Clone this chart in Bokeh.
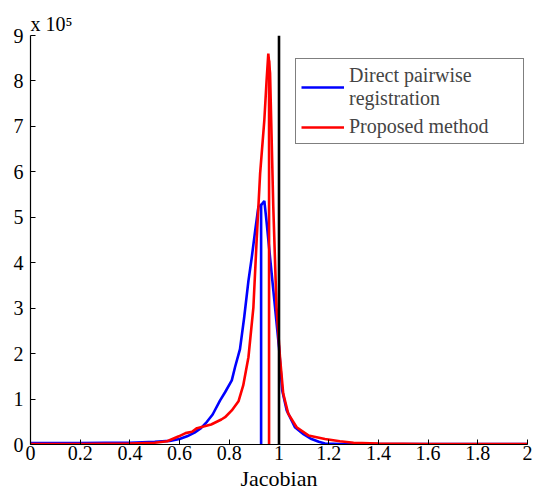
from bokeh.plotting import figure
from bokeh.models import Range1d, FixedTicker, Legend, LegendItem
from bokeh.embed import file_html
from bokeh.resources import INLINE

# Values in units of 10^5 (as shown by the "x 10^5" axis multiplier)
blue_x = [0.0, 0.1, 0.2, 0.3, 0.4, 0.5, 0.56, 0.6, 0.63, 0.66, 0.686, 0.71, 0.733,
          0.763, 0.783, 0.81, 0.823, 0.843, 0.86, 0.877, 0.89, 0.904, 0.917, 0.93,
          0.941, 0.95, 0.964, 0.984, 1.0, 1.013, 1.031, 1.064, 1.1, 1.131, 1.16,
          1.185, 1.25, 1.5, 2.0]
blue_y = [0.03, 0.03, 0.03, 0.035, 0.04, 0.06, 0.08, 0.12, 0.18, 0.26, 0.36, 0.5, 0.66,
          0.97, 1.15, 1.41, 1.7, 2.1, 2.8, 3.6, 4.1, 4.7, 5.23, 5.28,
          5.36, 4.9, 4.12, 3.02, 2.14, 1.19, 0.75, 0.38, 0.22, 0.12, 0.06,
          0.02, 0.01, 0.01, 0.01]

red_x = [0.0, 0.2, 0.4, 0.5, 0.55, 0.597, 0.624, 0.65, 0.67, 0.70, 0.727, 0.768,
         0.783, 0.81, 0.837, 0.856, 0.877, 0.897, 0.91, 0.924, 0.941, 0.95, 0.957,
         0.964, 0.977, 0.99, 1.004, 1.017, 1.037, 1.071, 1.118, 1.185, 1.245, 1.3,
         1.4, 1.6, 2.0]
red_y = [0.01, 0.01, 0.02, 0.04, 0.07, 0.18, 0.25, 0.28, 0.36, 0.40, 0.44, 0.55,
         0.6, 0.75, 0.95, 1.3, 1.92, 3.02, 4.49, 5.96, 7.14, 8.0, 8.6,
         8.17, 5.23, 3.02, 1.92, 1.12, 0.68, 0.38, 0.2, 0.12, 0.07, 0.04,
         0.02, 0.01, 0.01]

# Marker lines (x position, height)
blue_mark_x, blue_mark_y = 0.928, 5.3
red_mark_x, red_mark_y = 0.96, 8.45
ref_x, ref_y = 1.0, 9.0

x_ticks = [0, 0.2, 0.4, 0.6, 0.8, 1.0, 1.2, 1.4, 1.6, 1.8, 2.0]
y_ticks = [0, 1, 2, 3, 4, 5, 6, 7, 8, 9]
x_tick_labels = {0: "0", 0.2: "0.2", 0.4: "0.4", 0.6: "0.6", 0.8: "0.8", 1.0: "1",
                 1.2: "1.2", 1.4: "1.4", 1.6: "1.6", 1.8: "1.8", 2.0: "2"}

FONT = "Liberation Serif"

p = figure(width=533, height=493, output_backend="svg", toolbar_location=None,
           x_range=Range1d(0, 2), y_range=Range1d(0, 9),
           min_border_left=30, min_border_right=6, min_border_top=35, min_border_bottom=49)
p.outline_line_color = None
p.xgrid.visible = False
p.ygrid.visible = False
p.background_fill_color = "white"

p.title.text = "x 10\u2075"
p.title.align = "left"
p.title.text_font = FONT
p.title.text_font_size = "20px"
p.title.text_font_style = "normal"
p.title.text_color = "black"
p.title.standoff = 2

for ax in (p.xaxis[0], p.yaxis[0]):
    ax.axis_line_color = "black"
    ax.axis_line_width = 1.2
    ax.major_tick_line_color = "black"
    ax.major_tick_in = 5
    ax.major_tick_out = 0
    ax.minor_tick_line_color = None
    ax.major_label_text_font = FONT
    ax.major_label_text_font_size = "20px"
    ax.major_label_text_color = "black"

p.xaxis.ticker = FixedTicker(ticks=x_ticks)
p.xaxis.major_label_overrides = x_tick_labels
p.xaxis.major_label_standoff = 1
p.xaxis.axis_label = "Jacobian"
p.xaxis.axis_label_text_font = FONT
p.xaxis.axis_label_text_font_size = "22px"
p.xaxis.axis_label_text_font_style = "normal"
p.xaxis.axis_label_text_color = "black"
p.xaxis.axis_label_standoff = 3
p.yaxis.ticker = FixedTicker(ticks=y_ticks)
p.yaxis.major_label_standoff = 7

rb = p.line(blue_x, blue_y, line_color="#0000ff", line_width=2.6)
p.segment(x0=[blue_mark_x], y0=[0], x1=[blue_mark_x], y1=[blue_mark_y],
          line_color="#0000ff", line_width=2.6)
rr = p.line(red_x, red_y, line_color="#ff0000", line_width=2.6)
p.segment(x0=[red_mark_x], y0=[0], x1=[red_mark_x], y1=[red_mark_y],
          line_color="#ff0000", line_width=2.6)
p.segment(x0=[ref_x], y0=[0], x1=[ref_x], y1=[ref_y], line_color="black", line_width=2.6)

legend = Legend(items=[LegendItem(label="Direct pairwise\nregistration", renderers=[rb]),
                       LegendItem(label="Proposed method", renderers=[rr])],
                location=(265, 300), margin=0, padding=5, spacing=5,
                glyph_width=43, glyph_height=20, label_standoff=5, label_width=169,
                label_text_font=FONT, label_text_font_size="20px",
                border_line_color="black", border_line_width=1.5,
                background_fill_color="white", background_fill_alpha=1.0)
p.add_layout(legend, "center")

open("out.html", "w").write(file_html(p, INLINE))
